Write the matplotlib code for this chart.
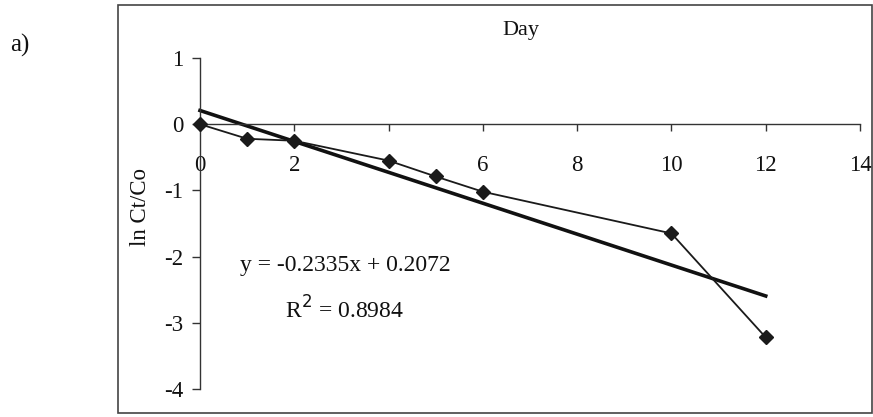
import matplotlib
matplotlib.use("Agg")
import matplotlib.pyplot as plt
from matplotlib.patches import Rectangle
import numpy as np

plt.rcParams['font.family'] = ['Liberation Serif', 'DejaVu Serif']

days = [0, 1, 2, 4, 5, 6, 10, 12]
ln_ct_co = [0.0, -0.22, -0.25, -0.55, -0.79, -1.02, -1.65, -3.22]
slope = -0.2335
intercept = 0.2072
r2 = 0.8984
x_ticks = [0, 2, 4, 6, 8, 10, 12, 14]
x_ticklabels = ["0", "2", "", "6", "8", "10", "12", "14"]
y_ticks = [1, 0, -1, -2, -3, -4]

W, H = 873, 417
fig = plt.figure(figsize=(W / 100, H / 100), dpi=100)
fig.patch.set_facecolor('white')

ax = fig.add_axes([200 / W, (H - 389) / H, 660 / W, (389 - 58) / H])
ax.set_xlim(0, 14)
ax.set_ylim(-4, 1)
ax.patch.set_alpha(0)

# data series
ax.plot(days, ln_ct_co, color='#1a1a1a', lw=1.3, marker='D', ms=7,
        mfc='#1a1a1a', mec='#1a1a1a', zorder=3, clip_on=False)
# trend line
xt = np.array([days[0], days[-1]], dtype=float)
ax.plot(xt, slope * xt + intercept, color='#111111', lw=2.6, zorder=2, clip_on=False)

# spines
for s in ['top', 'right']:
    ax.spines[s].set_visible(False)
ax.spines['bottom'].set_position(('data', 0))
ax.spines['left'].set_color('#333333')
ax.spines['bottom'].set_color('#333333')
ax.spines['left'].set_linewidth(1.0)
ax.spines['bottom'].set_linewidth(1.0)

ax.set_xticks(x_ticks)
ax.set_xticklabels(x_ticklabels)
ax.set_yticks(y_ticks)
ax.set_yticklabels([str(v) for v in y_ticks])
ax.tick_params(axis='x', direction='out', length=5, width=1, pad=17,
               labelsize=16.5, colors='#333333', labelcolor='#111111')
ax.tick_params(axis='y', direction='out', length=6, width=1, pad=6,
               labelsize=16.5, colors='#333333', labelcolor='#111111')

# labels
fig.text(140 / W, 1 - 207 / H, "ln Ct/Co", rotation=90, ha='center', va='center',
         fontsize=16.5, color='#111111')
fig.text(521 / W, 1 - 30 / H, "Day", ha='center', va='center', fontsize=16,
         color='#111111')
fig.text(20 / W, 1 - 45 / H, "a)", ha='center', va='center', fontsize=18,
         color='#111111')

# equation text
fig.text(345 / W, 1 - 265 / H, f"y = {slope}x + {intercept}", ha='center',
         va='center', fontsize=17, color='#111111')
fig.text(345 / W, 1 - 310 / H, f"R$^{{2}}$ = {r2}", ha='center', va='center',
         fontsize=17, color='#111111')

# outer chart frame
fig.patches.append(Rectangle((118 / W, 1 - 413 / H), (872 - 118) / W, (413 - 5) / H,
                             transform=fig.transFigure, fill=False,
                             edgecolor='#444444', linewidth=1.2))

fig.savefig("out.png", dpi=100, facecolor='white')
